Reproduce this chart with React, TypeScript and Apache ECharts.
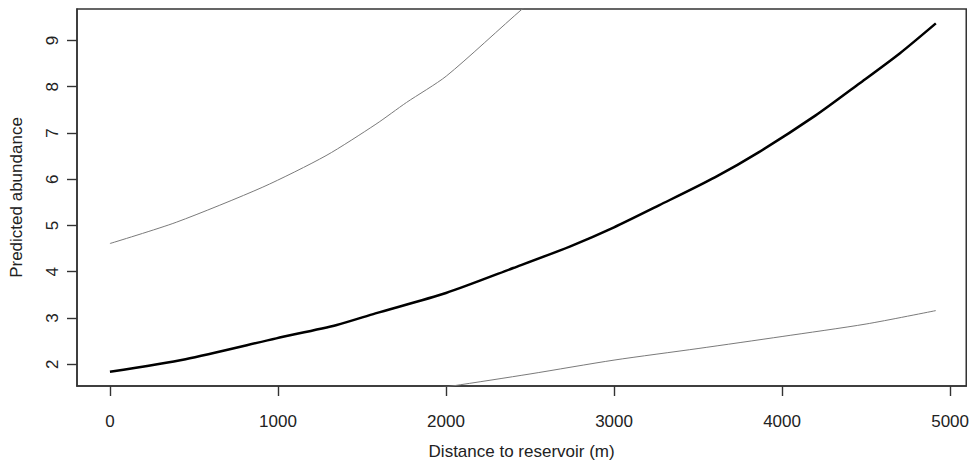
import React, { useEffect, useRef } from "react";
import * as echarts from "echarts";

// Fitted curve (black)
const fitX = [0, 450, 990, 1350, 1580, 2000, 2400, 2740, 3000, 3270, 3600, 3860, 4200, 4460, 4700, 4915];
const fitY = [1.84, 2.11, 2.56, 2.85, 3.1, 3.54, 4.08, 4.55, 4.96, 5.44, 6.04, 6.58, 7.38, 8.07, 8.72, 9.37];

// Upper confidence limit (grey)
const upperX = [0, 395, 910, 1286, 1583, 1765, 2002, 2457, 2700, 3000, 3500, 4000, 4500, 4915];
const upperY = [4.61, 5.07, 5.83, 6.51, 7.19, 7.66, 8.23, 9.69, 10.4, 11.5, 13.5, 16, 19, 22];

// Lower confidence limit (grey)
const lowerX = [0, 1000, 1500, 2036, 2500, 3000, 3500, 4000, 4500, 4915];
const lowerY = [0.73, 1.02, 1.25, 1.53, 1.79, 2.09, 2.34, 2.6, 2.87, 3.16];

const xTicks = [0, 1000, 2000, 3000, 4000, 5000];
const yTicks = [2, 3, 4, 5, 6, 7, 8, 9];

const X_MIN = -196;
const X_MAX = 5096;
const Y_MIN = 1.53;
const Y_MAX = 9.68;

const xTitle = "Distance to reservoir (m)";
const yTitle = "Predicted abundance";

const FONT = "'Liberation Sans', Arial, Helvetica, sans-serif";
const TICK_LEN = 10;

const pairs = (xs: number[], ys: number[]) => xs.map((x, i) => [x, ys[i]]);

export default function App() {
  const ref = useRef<HTMLDivElement>(null);
  useEffect(() => {
    if (!ref.current) return;
    const chart = echarts.init(ref.current, undefined, { renderer: "svg" });
    chart.setOption({
      animation: false,
      backgroundColor: "#ffffff",
      grid: {
        left: 76,
        top: 9,
        right: 3,
        bottom: 77,
        show: true,
        borderColor: "#333333",
        borderWidth: 1.5,
        backgroundColor: "transparent",
      },
      xAxis: {
        type: "value",
        min: X_MIN,
        max: X_MAX,
        name: xTitle,
        nameLocation: "middle",
        nameGap: 57,
        nameTextStyle: { fontFamily: FONT, fontSize: 17, color: "#222" },
        axisLine: { show: true, onZero: false, lineStyle: { color: "#333", width: 1.5 } },
        splitLine: { show: false },
        axisTick: { show: true, inside: false, length: TICK_LEN, customValues: xTicks, lineStyle: { color: "#333", width: 1.4 } },
        axisLabel: {
          customValues: xTicks,
          margin: 27,
          fontFamily: FONT,
          fontSize: 17,
          color: "#222",
          formatter: (v: number) => String(v),
        },
      },
      yAxis: {
        type: "value",
        min: Y_MIN,
        max: Y_MAX,
        name: yTitle,
        nameLocation: "middle",
        nameGap: 52,
        nameRotate: 90,
        nameTextStyle: { fontFamily: FONT, fontSize: 17, color: "#222" },
        axisLine: { show: true, onZero: false, lineStyle: { color: "#333", width: 1.5 } },
        splitLine: { show: false },
        axisTick: { show: true, inside: false, length: TICK_LEN, customValues: yTicks, lineStyle: { color: "#333", width: 1.4 } },
        axisLabel: {
          customValues: yTicks,
          rotate: 90,
          margin: 16,
          fontFamily: FONT,
          fontSize: 17,
          color: "#222",
          formatter: (v: number) => String(v),
        },
      },
      series: [
        {
          type: "line",
          data: pairs(upperX, upperY),
          showSymbol: false,
          clip: true,
          smooth: 0.25,
          lineStyle: { color: "#7a7a7a", width: 1 },
        },
        {
          type: "line",
          data: pairs(lowerX, lowerY),
          showSymbol: false,
          clip: true,
          smooth: 0.25,
          lineStyle: { color: "#7a7a7a", width: 1 },
        },
        {
          type: "line",
          data: pairs(fitX, fitY),
          showSymbol: false,
          clip: true,
          smooth: 0.25,
          lineStyle: { color: "#000000", width: 2.5 },
        },
      ],
    });
    return () => chart.dispose();
  }, []);
  return <div ref={ref} style={{ width: 972, height: 465, position: "absolute", left: 0, top: 0 }} />;
}
